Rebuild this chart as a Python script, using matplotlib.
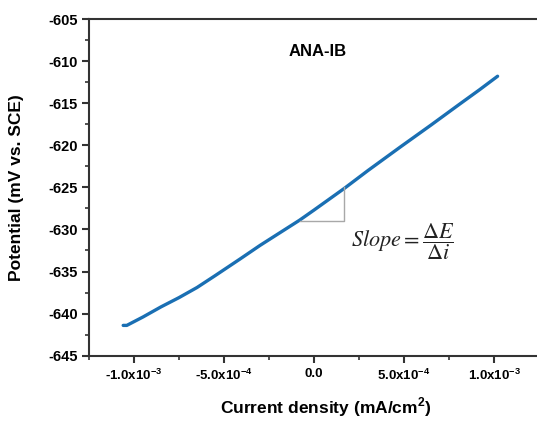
import numpy as np
import matplotlib
matplotlib.use("Agg")
import matplotlib.pyplot as plt
from matplotlib.ticker import MultipleLocator

# Tafel-region polarisation curve, current density in mA/cm2, potential in mV vs SCE
current = [-1.06e-3, -1.04e-3, -0.95e-3, -0.85e-3, -0.75e-3, -0.65e-3, -0.55e-3,
           -0.41e-3, -0.30e-3, -0.19e-3, -0.08e-3, 0.0, 0.17e-3, 0.30e-3,
           0.48e-3, 0.65e-3, 0.81e-3, 0.92e-3, 1.02e-3]
potential = [-641.4, -641.4, -640.4, -639.2, -638.1, -636.9, -635.5,
             -633.5, -631.9, -630.4, -628.9, -627.7, -625.1, -623.0,
             -620.2, -617.6, -615.1, -613.4, -611.8]

xticks = [-1.0e-3, -5.0e-4, 0.0, 5.0e-4, 1.0e-3]
xticklabels = [r"-1.0x10$^{\mathbf{-3}}$", r"-5.0x10$^{\mathbf{-4}}$", "0.0",
               r"5.0x10$^{\mathbf{-4}}$", r"1.0x10$^{\mathbf{-3}}$"]
yticks = [-645, -640, -635, -630, -625, -620, -615, -610, -605]

# slope triangle corners (data coords)
tri_x = [-0.078e-3, 0.168e-3, 0.168e-3]
tri_y = [-629.0, -629.0, -625.0]

plt.rcParams["font.family"] = ["Liberation Sans", "DejaVu Sans"]
plt.rcParams["axes.unicode_minus"] = False
plt.rcParams["mathtext.fontset"] = "custom"
plt.rcParams["mathtext.bf"] = "Liberation Sans:bold"
plt.rcParams["mathtext.rm"] = "Liberation Sans:bold"

fig = plt.figure(figsize=(5.37, 4.21), dpi=100)
ax = fig.add_axes([89 / 537, 1 - 355.7 / 421, 1 - 89 / 537, (355.7 - 19) / 421])

ax.plot(current, potential, color="#1a6fb3", lw=2.4, solid_capstyle="round")
ax.plot(tri_x, tri_y, color="#a8a8a8", lw=1.0)

ax.set_xlim(-1.25e-3, 1.239e-3)
ax.set_ylim(-645, -605)
ax.set_xticks(xticks)
ax.set_xticklabels(xticklabels)
ax.set_yticks(yticks)
ax.xaxis.set_minor_locator(MultipleLocator(2.5e-4))
ax.yaxis.set_minor_locator(MultipleLocator(2.5))

for side in ("left", "bottom", "top"):
    ax.spines[side].set_linewidth(1.5)
    ax.spines[side].set_color("#333333")
ax.spines["right"].set_visible(False)
ax.tick_params(which="major", direction="out", length=5, width=1.5, color="#333333", pad=3)
ax.tick_params(which="minor", direction="out", length=3, width=1.2, color="#333333")
ax.tick_params(axis="x", which="major", pad=4, labelsize=9.5)
ax.tick_params(axis="y", which="major", labelsize=10.5)
for lab in ax.get_xticklabels() + ax.get_yticklabels():
    lab.set_fontweight("bold")

ax.set_xlabel(r"Current density (mA/cm$^{\mathbf{2}}$)", fontsize=12.5, fontweight="bold")
ax.set_ylabel("Potential (mV vs. SCE)", fontsize=12.5, fontweight="bold")
ax.xaxis.set_label_coords(0.529, -0.118)
ax.yaxis.set_label_coords(-0.145, 0.5)

ax.text(0.02e-3, -608.9, "ANA-IB", fontsize=12, fontweight="bold",
        ha="center", va="center")
ax.text(0.49e-3, -631.4,
        r"$\mathit{Slope}=\dfrac{\mathrm{\Delta}\mathit{E}}{\mathrm{\Delta}\mathit{i}}$",
        fontsize=16, fontweight="normal", ha="center", va="center",
        math_fontfamily="stix", color="#222222")

fig.savefig("out.png", dpi=100)
